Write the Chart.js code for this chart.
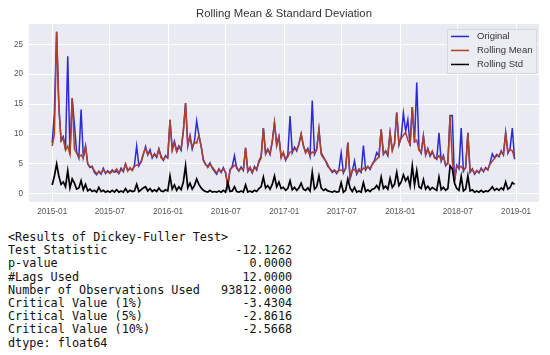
<!DOCTYPE html>
<html>
<head>
<meta charset="utf-8">
<script src="https://cdn.jsdelivr.net/npm/chart.js@4.4.0/dist/chart.umd.min.js"></script>
<style>
  html, body { margin: 0; padding: 0; background: #fff; }
  #wrap { position: relative; width: 550px; height: 355px; overflow: hidden; }
  #chart { position: absolute; left: 0; top: 0; }
  #adf {
    position: absolute; left: 8px; top: 231px; margin: 0;
    font-family: "DejaVu Sans Mono", monospace; font-size: 11.8px;
    line-height: 13.2px; color: #111;
  }
</style>
</head>
<body>
<div id="wrap">
  <canvas id="chart" width="550" height="220"></canvas>
  <pre id="adf"></pre>
</div>
<script>
// --- data (one sample per week, starting 2015-01-01) ---
const sampleStepDays = 7;

const original = [
  8.5, 13.5, 27.1, 14.6, 9.0, 9.6, 7.5, 23.0, 6.5, 16.0,
  11.6, 7.0, 6.0, 14.1, 6.2, 8.0, 5.0, 4.4, 4.6, 3.6,
  3.2, 3.8, 3.3, 4.3, 3.4, 3.9, 3.5, 4.0, 3.6, 3.8,
  3.4, 4.3, 3.7, 5.0, 3.9, 4.2, 4.0, 4.8, 8.0, 4.7,
  5.4, 6.6, 7.9, 6.5, 7.4, 6.0, 6.7, 6.1, 7.5, 6.3,
  5.6, 6.4, 6.0, 12.4, 7.5, 8.8, 7.2, 8.0, 7.3, 10.5,
  15.2, 8.0, 9.8, 7.5, 8.8, 12.2, 9.8, 8.0, 5.6, 4.9,
  4.6, 5.2, 4.3, 3.8, 3.3, 4.2, 3.6, 4.4, 3.5, 1.2,
  4.0, 4.6, 6.4, 4.3, 3.8, 4.5, 3.9, 7.7, 3.7, 4.3,
  3.5, 4.6, 4.0, 5.5, 6.3, 11.0, 6.8, 7.5, 6.6, 8.8,
  11.9, 8.3, 9.6, 6.2, 6.8, 5.6, 6.5, 13.0, 6.9, 7.8,
  7.2, 8.4, 10.0, 8.0, 7.0, 7.6, 6.3, 15.6, 6.6, 7.4,
  10.8, 6.9, 6.2, 5.5, 4.6, 4.2, 3.6, 3.9, 3.4, 4.1,
  6.9, 3.5, 4.3, 8.6, 2.5, 3.8, 5.5, 3.3, 4.0, 3.6,
  8.1, 4.0, 4.6, 4.1, 5.0, 5.6, 6.9, 6.3, 10.8, 6.6,
  7.2, 6.4, 10.2, 7.4, 8.4, 13.6, 8.2, 9.5, 13.5, 10.5,
  12.4, 8.0, 14.5, 8.5, 18.6, 7.5, 6.8, 9.7, 6.5, 7.6,
  6.3, 7.0, 6.2, 5.8, 10.2, 5.5, 6.4, 4.7, 5.2, 13.1,
  13.1, 2.0, 4.8, 4.2, 11.0, 3.8, 4.5, 10.2, 3.6, 4.2,
  3.3, 3.9, 3.5, 4.3, 3.7, 4.4, 4.0, 5.2, 6.7, 6.0,
  6.6, 6.2, 7.2, 6.5, 10.2, 6.8, 7.6, 11.0, 5.8
];

const rollingMean = [
  8.0, 10.0, 27.1, 14.6, 8.8, 9.3, 7.3, 8.0, 6.6, 16.0,
  7.5, 6.8, 6.2, 6.5, 6.0, 8.0, 5.0, 4.6, 4.4, 3.9,
  3.4, 3.7, 3.5, 4.0, 3.6, 3.7, 3.4, 3.8, 3.7, 4.2,
  3.5, 4.0, 3.9, 5.0, 3.8, 4.4, 3.9, 4.6, 4.8, 4.9,
  5.3, 6.7, 7.6, 6.6, 7.0, 6.2, 6.5, 6.3, 7.5, 6.0,
  5.8, 6.2, 6.2, 12.4, 7.2, 8.5, 7.0, 7.8, 7.6, 10.5,
  15.2, 8.2, 9.5, 7.8, 8.6, 8.5, 9.8, 8.0, 5.8, 5.0,
  4.4, 5.0, 4.5, 4.0, 3.5, 4.0, 3.8, 4.2, 3.6, 1.4,
  4.1, 4.4, 4.8, 4.5, 3.9, 4.3, 4.1, 7.7, 3.9, 4.5,
  3.6, 4.4, 4.2, 5.3, 6.0, 11.0, 6.6, 7.3, 6.9, 8.6,
  11.9, 8.0, 9.5, 6.0, 7.0, 5.8, 6.2, 7.0, 7.1, 7.5,
  7.4, 8.2, 10.0, 8.2, 6.8, 7.4, 6.5, 7.0, 6.8, 7.6,
  10.8, 6.6, 6.0, 5.6, 4.9, 4.1, 3.8, 4.0, 3.6, 3.9,
  4.0, 3.7, 4.2, 8.6, 2.8, 4.0, 4.1, 3.5, 4.2, 3.8,
  4.3, 4.2, 4.5, 4.3, 4.9, 5.4, 5.8, 6.2, 10.8, 6.8,
  7.0, 6.6, 10.2, 7.2, 8.5, 13.6, 8.4, 9.3, 9.8, 10.3,
  9.0, 8.2, 14.5, 8.8, 9.0, 7.3, 7.0, 9.7, 6.6, 7.4,
  6.5, 7.2, 6.0, 5.9, 6.4, 5.7, 6.2, 4.9, 5.0, 13.1,
  5.5, 2.3, 4.6, 4.4, 4.6, 4.0, 4.3, 10.2, 3.8, 4.0,
  3.5, 3.8, 3.7, 4.1, 3.9, 4.2, 4.1, 5.0, 5.5, 5.9,
  6.4, 6.4, 7.0, 6.6, 10.2, 7.0, 7.4, 7.2, 6.0
];

const rollingStd = [
  1.5, 3.0, 5.0, 3.0, 1.6, 2.0, 1.2, 3.9, 1.0, 2.5,
  1.8, 0.8, 1.0, 2.2, 0.7, 1.6, 0.5, 0.8, 0.4, 0.6,
  0.3, 1.1, 0.4, 0.6, 0.3, 0.5, 0.3, 0.6, 0.3, 0.7,
  0.3, 0.5, 0.3, 0.9, 0.3, 0.6, 0.4, 0.5, 1.6, 0.4,
  0.7, 1.0, 1.2, 0.5, 0.9, 0.4, 0.7, 0.4, 1.0, 0.5,
  0.4, 0.7, 0.5, 3.0, 0.8, 1.5, 0.6, 1.2, 0.7, 2.0,
  4.7, 1.0, 1.8, 0.8, 1.4, 2.5, 1.6, 1.0, 0.6, 0.4,
  0.3, 0.6, 0.3, 0.4, 0.3, 0.5, 0.3, 0.6, 0.3, 1.9,
  0.4, 0.5, 1.2, 0.4, 0.3, 0.5, 0.3, 1.5, 0.3, 0.5,
  0.3, 0.6, 0.4, 0.9, 1.2, 2.8, 1.0, 1.4, 0.8, 1.6,
  3.0, 1.2, 2.0, 0.9, 1.1, 0.6, 0.9, 2.2, 0.7, 1.1,
  0.6, 1.0, 1.8, 0.8, 0.6, 1.0, 0.5, 3.6, 0.8, 1.2,
  3.0, 1.0, 0.6, 0.8, 0.5, 0.4, 0.3, 0.5, 0.3, 0.4,
  1.9, 0.3, 0.6, 2.5, 1.0, 0.4, 1.1, 0.3, 0.5, 0.3,
  1.9, 0.4, 0.7, 0.4, 0.8, 0.9, 1.4, 0.8, 2.8, 0.9,
  1.3, 0.8, 2.6, 1.1, 1.6, 3.6, 1.4, 2.0, 3.2, 2.2,
  2.8, 1.3, 4.7, 1.5, 3.9, 1.2, 0.9, 2.4, 0.8, 1.3,
  0.7, 1.1, 0.8, 0.6, 2.8, 0.7, 1.1, 0.6, 0.9, 4.7,
  4.2, 1.8, 0.9, 0.6, 2.9, 0.5, 0.8, 3.0, 0.5, 0.7,
  0.3, 0.5, 0.3, 0.6, 0.3, 0.5, 0.4, 0.7, 1.2, 0.6,
  0.9, 0.6, 1.0, 0.7, 2.0, 0.8, 1.1, 1.9, 1.6
];

// x axis: days since 2015-01-01
const tickDays = [0, 181, 365, 547, 731, 912, 1096, 1277, 1461];
const tickLabels = ['2015-01', '2015-07', '2016-01', '2016-07', '2017-01', '2017-07', '2018-01', '2018-07', '2019-01'];
const yTicks = [0, 5, 10, 15, 20, 25];

// Dickey-Fuller test output
const dfLabels = ['Test Statistic', 'p-value', '#Lags Used', 'Number of Observations Used',
  'Critical Value (1%)', 'Critical Value (5%)', 'Critical Value (10%)'];
const dfValues = [-12.1262, 0.0, 12.0, 93812.0, -3.4304, -2.8616, -2.5668];

function toPoints(arr) {
  return arr.map((v, i) => ({ x: i * sampleStepDays, y: v }));
}

// seaborn style background behind the plot
const plotBackground = {
  id: 'plotBackground',
  beforeDraw(chart) {
    const a = chart.chartArea;
    const ctx = chart.ctx;
    ctx.save();
    ctx.fillStyle = '#eaeaf2';
    ctx.fillRect(a.left, a.top, a.right - a.left, a.bottom - a.top);
    ctx.restore();
  }
};

// legend drawn inside the plot, upper right (like matplotlib)
const innerLegend = {
  id: 'innerLegend',
  afterDatasetsDraw(chart) {
    const ctx = chart.ctx;
    const a = chart.chartArea;
    const boxW = 89, boxH = 44;
    const x0 = a.right - 3 - boxW;
    const y0 = a.top + 5;
    ctx.save();
    ctx.fillStyle = 'rgba(236,236,243,0.9)';
    ctx.strokeStyle = '#d6d6dd';
    ctx.lineWidth = 1;
    ctx.beginPath();
    ctx.rect(x0 + 0.5, y0 + 0.5, boxW, boxH);
    ctx.fill();
    ctx.stroke();
    ctx.font = '9.5px "Liberation Sans", Arial, sans-serif';
    ctx.textBaseline = 'middle';
    chart.data.datasets.forEach((ds, i) => {
      const y = y0 + 7.5 + i * 14;
      ctx.strokeStyle = ds.borderColor;
      ctx.lineWidth = 1.5;
      ctx.beginPath();
      ctx.moveTo(x0 + 4, y);
      ctx.lineTo(x0 + 22, y);
      ctx.stroke();
      ctx.fillStyle = '#333';
      ctx.fillText(ds.label, x0 + 30, y);
    });
    ctx.restore();
  }
};

const ctx = document.getElementById('chart').getContext('2d');
const chart = new Chart(ctx, {
  type: 'line',
  data: {
    datasets: [
      { label: 'Original', data: toPoints(original), borderColor: '#2a2ad6', borderWidth: 1.5, order: 3 },
      { label: 'Rolling Mean', data: toPoints(rollingMean), borderColor: '#ad4129', borderWidth: 1.5, order: 2 },
      { label: 'Rolling Std', data: toPoints(rollingStd), borderColor: '#000000', borderWidth: 1.7, order: 1 }
    ]
  },
  options: {
    responsive: false,
    animation: false,
    devicePixelRatio: 1,
    elements: {
      point: { radius: 0 },
      line: { tension: 0 }
    },
    layout: { padding: { left: 0, right: 11, top: 0, bottom: 0 } },
    plugins: {
      legend: { display: false },
      tooltip: { enabled: false },
      title: {
        display: true,
        fullSize: false,
        text: 'Rolling Mean & Standard Deviation',
        color: '#333',
        font: { family: '"Liberation Sans", Arial, sans-serif', size: 11.3, weight: 'normal' },
        padding: { top: 7, bottom: 3.4 }
      }
    },
    scales: {
      x: {
        type: 'linear',
        min: -73,
        max: 1533,
        grid: { color: '#ffffff', lineWidth: 1, drawTicks: false },
        border: { display: false },
        afterBuildTicks(scale) {
          scale.ticks = tickDays.map(v => ({ value: v }));
        },
        afterFit(scale) { scale.height = 18; },
        ticks: {
          autoSkip: false,
          maxRotation: 0,
          padding: 5,
          color: '#555',
          font: { family: '"Liberation Sans", Arial, sans-serif', size: 8.2 },
          callback: (v) => tickLabels[tickDays.indexOf(v)]
        }
      },
      y: {
        min: -1.35,
        max: 28.4,
        grid: { color: '#ffffff', lineWidth: 1, drawTicks: false },
        border: { display: false },
        afterBuildTicks(scale) {
          scale.ticks = yTicks.map(v => ({ value: v }));
        },
        afterFit(scale) { scale.width = 29; },
        ticks: {
          padding: 6,
          color: '#555',
          font: { family: '"Liberation Sans", Arial, sans-serif', size: 8.2 }
        }
      }
    }
  },
  plugins: [plotBackground, innerLegend]
});

// text output under the chart
const lines = ['<Results of Dickey-Fuller Test>'];
dfLabels.forEach((label, i) => {
  lines.push(label.padEnd(27) + '   ' + dfValues[i].toFixed(4).padStart(10));
});
lines.push('dtype: float64');
document.getElementById('adf').textContent = lines.join('\n');
</script>
</body>
</html>
